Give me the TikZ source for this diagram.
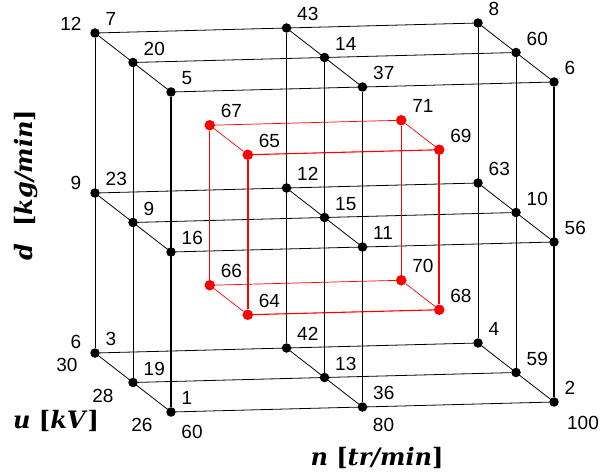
\documentclass[tikz,border=0pt]{standalone}
\usepackage{fontspec}
\usepackage{tikz}
\usetikzlibrary{positioning}
\usetikzlibrary{calc}

\newfontfamily\numfont{Liberation Sans}
\newfontfamily\axisfont{DejaVu Serif}

\begin{document}
\begin{tikzpicture}[x={(191.5pt,5pt)}, y={(0pt,160pt)}, z={(38pt,-29.5pt)},
    every node/.style={circle, fill=black, inner sep=0pt, minimum size=9.5pt},
    every label/.style={rectangle, fill=none, minimum size=0pt, inner sep=1pt, xshift=6pt, yshift=2.5pt, font=\numfont\fontsize{19}{19}\selectfont},
    txt/.style={rectangle, fill=none, minimum size=0pt, inner sep=1pt, font=\numfont\fontsize{19}{19}\selectfont},
    axis/.style={txt, font=\axisfont\fontsize{24}{24}\selectfont\bfseries},
    reddot/.style={fill=red, minimum size=10.5pt},
    gridline/.style={line width=0.8pt},
    frontline/.style={line width=1.8pt},
    redline/.style={draw=red, line width=0.7pt}]

  \useasboundingbox (0pt,0pt) rectangle (602pt,472pt);

  \begin{scope}[shift={(95pt,119pt)}]
    % back plane
    \node[label=above right:{7}] (p020) at (0,2,0) {};
    \node[label=above right:{43}] (p120) at (1,2,0) {};
    \node[label=above right:{8}] (p220) at (2,2,0) {};
    \node[label=above right:{23}] (p010) at (0,1,0) {};
    \node[label=above right:{12}] (p110) at (1,1,0) {};
    \node[label=above right:{63}] (p210) at (2,1,0) {};
    \node[label=above right:{3}] (p000) at (0,0,0) {};
    \node[label=above right:{42}] (p100) at (1,0,0) {};
    \node[label=above right:{4}] (p200) at (2,0,0) {};

    % middle plane
    \node[label=above right:{20}] (p021) at (0,2,1) {};
    \node[label=above right:{14}] (p121) at (1,2,1) {};
    \node[label=above right:{60}] (p221) at (2,2,1) {};
    \node[label=above right:{9}] (p011) at (0,1,1) {};
    \node[label=above right:{15}] (p111) at (1,1,1) {};
    \node[label=above right:{10}] (p211) at (2,1,1) {};
    \node[label=above right:{19}] (p001) at (0,0,1) {};
    \node[label=above right:{13}] (p101) at (1,0,1) {};
    \node[label=above right:{59}] (p201) at (2,0,1) {};

    % front plane
    \node[label=above right:{5}] (p022) at (0,2,2) {};
    \node[label=above right:{37}] (p122) at (1,2,2) {};
    \node[label=above right:{6}] (p222) at (2,2,2) {};
    \node[label=above right:{16}] (p012) at (0,1,2) {};
    \node[label=above right:{11}] (p112) at (1,1,2) {};
    \node[label=above right:{56}] (p212) at (2,1,2) {};
    \node[label=above right:{1}] (p002) at (0,0,2) {};
    \node[label=above right:{36}] (p102) at (1,0,2) {};
    \node[label=above right:{2}] (p202) at (2,0,2) {};

    % n direction
    \foreach \b in {0,1,2} {
      \foreach \c in {0,1,2} {
        \draw[gridline] (p0\b\c) -- (p2\b\c);
      }
    }
    % d direction
    \foreach \a in {0,1,2} {
      \foreach \c in {0,1} {
        \draw[gridline] (p\a0\c) -- (p\a2\c);
      }
      \draw[frontline] (p\a02) -- (p\a22);
    }
    % u direction
    \foreach \a in {0,1,2} {
      \foreach \b in {0,1,2} {
        \draw[gridline, shorten <=-5pt, shorten >=-5pt] (p\a\b0) -- (p\a\b2);
      }
    }

    % inner cube
    \node[reddot, label=above right:{67}] (r010) at (0.5,1.5,0.5) {};
    \node[reddot, label=above right:{71}] (r110) at (1.5,1.5,0.5) {};
    \node[reddot, label=above right:{65}] (r011) at (0.5,1.5,1.5) {};
    \node[reddot, label=above right:{69}] (r111) at (1.5,1.5,1.5) {};
    \node[reddot, label=above right:{66}] (r000) at (0.5,0.5,0.5) {};
    \node[reddot, label=above right:{70}] (r100) at (1.5,0.5,0.5) {};
    \node[reddot, label=above right:{64}] (r001) at (0.5,0.5,1.5) {};
    \node[reddot, label=above right:{68}] (r101) at (1.5,0.5,1.5) {};

    \foreach \b in {0,1} {
      \draw[redline] (r0\b0) -- (r1\b0);
      \draw[redline, line width=1.1pt] (r0\b1) -- (r1\b1);
    }
    \foreach \a in {0,1} {
      \draw[redline] (r\a00) -- (r\a10);
      \draw[redline, line width=1.8pt] (r\a01) -- (r\a11);
      \foreach \b in {0,1} {
        \draw[redline] (r\a\b0) -- (r\a\b1);
      }
    }
  \end{scope}

  % axis values
  \node[txt] (d12) at ($(p020)+(-24pt,9pt)$) {12};
  \node[txt] (d9) at ($(p010)+(-19pt,10pt)$) {9};
  \node[txt] (d6) at ($(p000)+(-19pt,11pt)$) {6};
  \node[txt] (u30) at ($(p000)+(-28pt,-12pt)$) {30};
  \node[txt] (u28) at ($(p001)+(-30pt,-13pt)$) {28};
  \node[txt] (u26) at ($(p002)+(-29pt,-13pt)$) {26};
  \node[txt] (n60) at ($(p002)+(21pt,-20pt)$) {60};
  \node[txt] (n80) at ($(p102)+(21pt,-18pt)$) {80};
  \node[txt] (n100) at ($(p202)+(29pt,-21pt)$) {100};

  % axis names
  \node[axis, rotate=90] (dname) at (26pt,287pt) {\textit{d}~~[\textit{kg/min}]};
  \node[axis] (uname) at (56pt,51pt) {\textit{u} [\textit{kV}]};
  \node[axis] (nname) at (377pt,14pt) {\textit{n} [\textit{tr/min}]};
\end{tikzpicture}
\end{document}
